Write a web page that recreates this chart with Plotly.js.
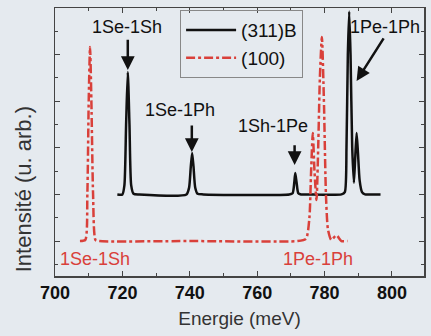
<!DOCTYPE html>
<html>
<head>
<meta charset="utf-8">
<script src="https://cdn.plot.ly/plotly-3.0.1.min.js"></script>
<style>html,body{margin:0;padding:0;background:#e5eaef;}#chart{width:431px;height:336px;}</style>
</head>
<body>
<div id="chart"></div>
<script>
// (311)B series
const energy311B = [718.5, 720, 720.6, 721.1, 721.6, 722.1, 722.6, 723.3, 725, 739, 739.8, 740.3, 740.7, 741.1, 741.6, 742.3, 744, 769.5, 770.5, 771.0, 771.3, 771.7, 772.2, 773.0, 775, 785, 786.0, 786.5, 786.9, 787.3, 787.7, 788.2, 788.7, 789.1, 789.5, 789.9, 790.4, 791.1, 792, 794, 796.6];
const intens311B = [3, 3, 3.4, 6.0, 8.25, 6.0, 3.4, 3.03, 3, 3, 3.3, 4.2, 4.78, 4.2, 3.3, 3.03, 3, 3, 3.05, 3.5, 3.92, 3.5, 3.05, 3, 3, 3, 3.1, 5.0, 9.0, 10.85, 9.0, 5.0, 3.5, 4.6, 5.64, 4.8, 3.6, 3.1, 3, 3, 3];
// (100) series
const energy100 = [707.4, 709, 709.6, 710.0, 710.4, 710.8, 711.3, 712, 713, 740, 772, 774.5, 775.5, 776.0, 776.5, 777.0, 777.6, 778.1, 778.6, 779.2, 779.8, 780.4, 781, 782, 783.5, 785, 786.8];
const intens100 = [1, 1.05, 3, 7, 9.33, 7, 3, 1.05, 1, 1, 1, 1.1, 2, 4, 5.64, 4, 2.76, 5, 8, 9.76, 7, 3, 1.5, 1.05, 1.25, 1.0, 1.0];
const seriesNames = ['(311)B', '(100)'];
// labels
const labelText = ['1Se-1Sh', '1Se-1Ph', '1Sh-1Pe', '1Pe-1Ph', '1Se-1Sh', '1Pe-1Ph'];
const labelX = [721.3, 737, 764.6, 797.8, 711.9, 778];
const labelY = [10.19, 6.62, 5.94, 10.19, 0.23, 0.23];
const labelColor = ['#111', '#111', '#111', '#111', '#d9403a', '#d9403a'];
// arrows: tail -> head
const arrowTailX = [721.6, 740.6, 771.1, 797.8];
const arrowTailY = [9.7, 6.02, 5.17, 9.76];
const arrowHeadX = [721.6, 740.6, 771.1, 789.5];
const arrowHeadY = [8.34, 4.82, 4.26, 7.87];

const font = 'Liberation Sans, Arial, Helvetica, sans-serif';
const annotations = [];
for (let i = 0; i < labelText.length; i++) {
  annotations.push({x: labelX[i], y: labelY[i], xref: 'x', yref: 'y', text: labelText[i], showarrow: false,
    font: {family: font, size: 18, color: labelColor[i]}});
}
for (let i = 0; i < arrowTailX.length; i++) {
  annotations.push({x: arrowHeadX[i], y: arrowHeadY[i], ax: arrowTailX[i], ay: arrowTailY[i], axref: 'x', ayref: 'y',
    xref: 'x', yref: 'y', text: '', showarrow: true, arrowhead: 2, arrowsize: 1.1, arrowwidth: 2.5, arrowcolor: '#111'});
}
// y axis title placed like the original (centred low)
annotations.push({xref: 'paper', yref: 'paper', x: -0.083, y: 0.325, xanchor: 'center', yanchor: 'middle',
  text: 'Intensité (u. arb.)', textangle: -90, showarrow: false, font: {family: font, size: 22, color: '#333'}});

const data = [
  {x: energy311B, y: intens311B, name: seriesNames[0], type: 'scatter', mode: 'lines',
   line: {color: '#111', width: 2.5, shape: 'spline', smoothing: 0.6}},
  {x: energy100, y: intens100, name: seriesNames[1], type: 'scatter', mode: 'lines',
   line: {color: '#d9403a', width: 2.5, dash: 'dashdot', shape: 'spline', smoothing: 0.6}}
];

const layout = {
  width: 431, height: 336,
  margin: {l: 55, r: 7, t: 8, b: 60},
  paper_bgcolor: '#e5eaef', plot_bgcolor: '#e5eaef',
  font: {family: font, color: '#222'},
  showlegend: true,
  legend: {x: 0.339, y: 0.992, xanchor: 'left', yanchor: 'top', bgcolor: 'rgba(0,0,0,0)',
    bordercolor: '#888', borderwidth: 1, font: {family: font, size: 19, color: '#111'}, itemwidth: 50,
    tracegroupgap: 0},
  xaxis: {range: [700, 809.5], showgrid: false, zeroline: false, showline: true, linecolor: '#444', linewidth: 1.5,
    mirror: 'ticks', ticks: 'inside', ticklen: 5, tickcolor: '#444', dtick: 20, tick0: 700,
    minor: {dtick: 10, ticks: 'inside', ticklen: 3, tickcolor: '#444'},
    tickfont: {family: font, size: 18, color: '#111', weight: 'bold'},
    title: {text: 'Energie (meV)', font: {family: font, size: 19, color: '#333'}, standoff: 9}},
  yaxis: {range: [-0.5, 11], showgrid: false, zeroline: false, showline: true, linecolor: '#444', linewidth: 1.5,
    mirror: 'ticks', ticks: 'inside', ticklen: 5, tickcolor: '#444', dtick: 2, tick0: 1, showticklabels: false,
    minor: {dtick: 1, ticks: 'inside', ticklen: 3, tickcolor: '#444'}},
  annotations: annotations
};
Plotly.newPlot('chart', data, layout, {displayModeBar: false, staticPlot: true});
</script>
</body>
</html>
